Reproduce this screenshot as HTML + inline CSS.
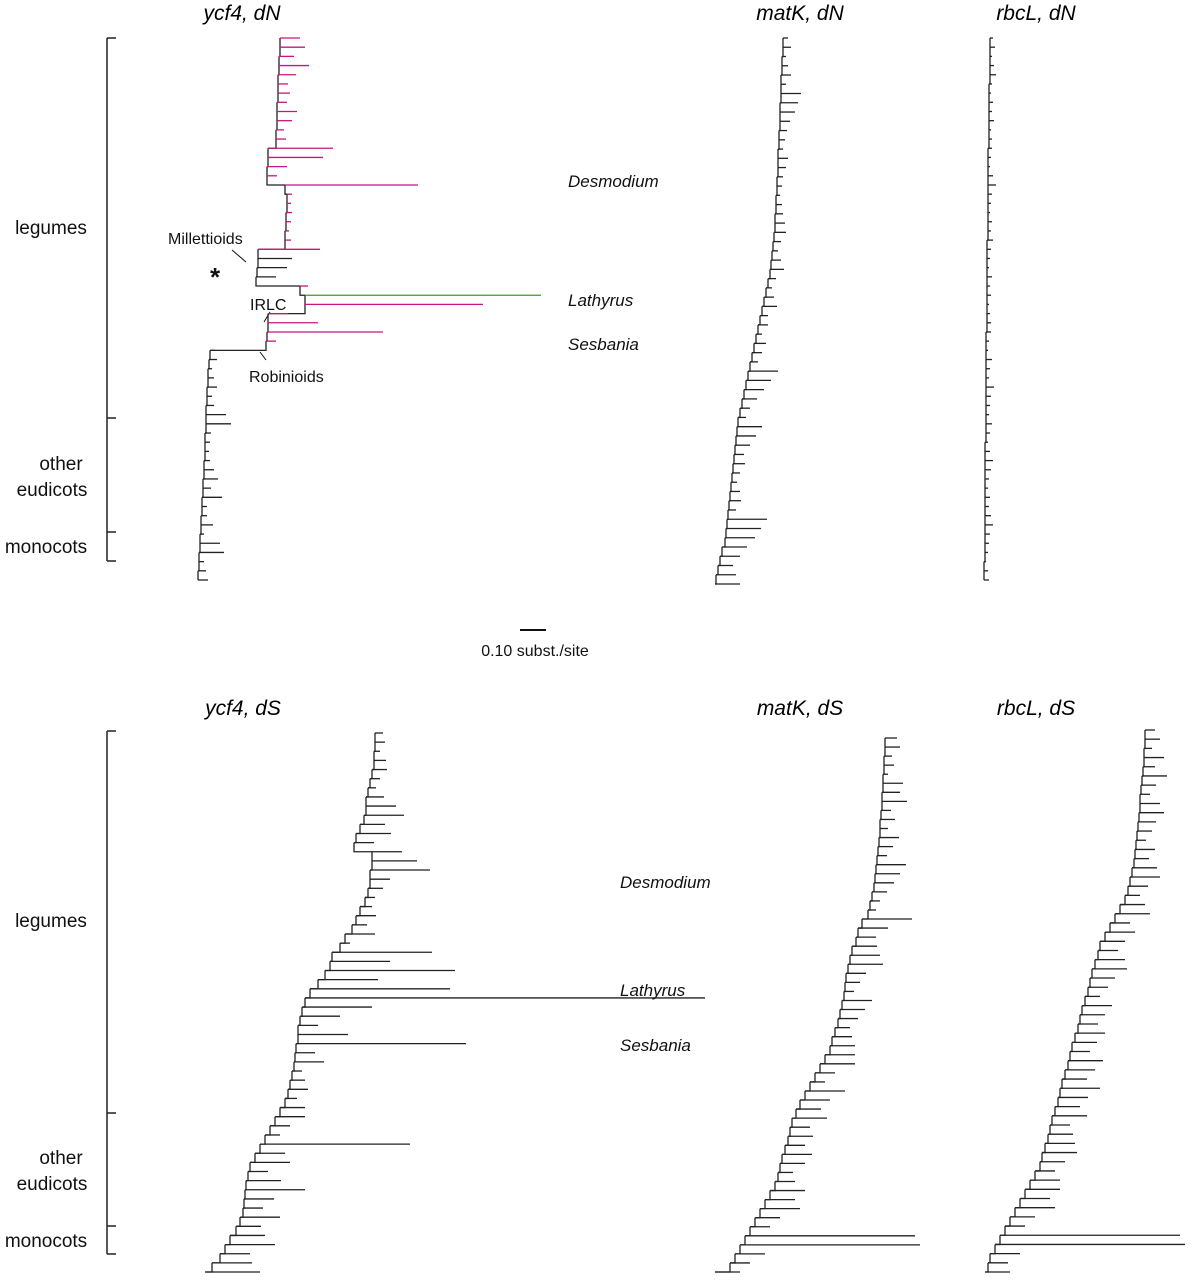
<!DOCTYPE html>
<html><head><meta charset="utf-8">
<style>
html,body{margin:0;padding:0;background:#fff;}
svg{display:block;font-family:"Liberation Sans",Arial,sans-serif;}
.t{font-style:italic;font-size:21px;}
.g{font-size:19px;}
.s{font-style:italic;font-size:17px;}
.a{font-size:16px;}
</style></head>
<body>
<svg id="fig" width="1201" height="1280" viewBox="0 0 1201 1280">
<g>
<text class="t" x="242" y="20" text-anchor="middle">ycf4, dN</text>
<text class="t" x="800" y="20" text-anchor="middle">matK, dN</text>
<text class="t" x="1036" y="20" text-anchor="middle">rbcL, dN</text>
<text class="t" x="243" y="715" text-anchor="middle">ycf4, dS</text>
<text class="t" x="800" y="715" text-anchor="middle">matK, dS</text>
<text class="t" x="1036" y="715" text-anchor="middle">rbcL, dS</text>
</g>
<g stroke="#222" stroke-width="1.5" fill="none">
<path d="M107 38V561M107 38H116M107 418H116M107 532H116M107 561H116"/>
<path d="M107 731V1254M107 731H116M107 1113H116M107 1226H116M107 1254H116"/>
</g>
<g class="g" fill="#111" text-anchor="middle">
<text x="51" y="234">legumes</text>
<text x="61" y="470">other</text>
<text x="52" y="496">eudicots</text>
<text x="46" y="553">monocots</text>
<text x="51" y="927">legumes</text>
<text x="61" y="1164">other</text>
<text x="52" y="1190">eudicots</text>
<text x="46" y="1247">monocots</text>
</g>
<g class="s" fill="#111">
<text x="568" y="187">Desmodium</text>
<text x="568" y="306">Lathyrus</text>
<text x="568" y="350">Sesbania</text>
<text x="620" y="888">Desmodium</text>
<text x="620" y="996">Lathyrus</text>
<text x="620" y="1051">Sesbania</text>
</g>
<g class="a" fill="#111">
<text x="168" y="244">Millettioids</text>
<text x="250" y="310">IRLC</text>
<text x="249" y="382">Robinioids</text>
<text x="210" y="286" style="font-size:26px;font-weight:bold">*</text>
<path d="M232 250L246 262M270 312L264 322M260 352L266 360" stroke="#111" stroke-width="1"/>
</g>
<g>
<line x1="520" y1="630" x2="546" y2="630" stroke="#111" stroke-width="2"/>
<text x="535" y="656" text-anchor="middle" class="a" fill="#111">0.10 subst./site</text>
</g>
<g id="trees"></g>
</svg>
<script>
// ycf4 dN
const ycf4dnSpine=[280,280,279,279,278,278,278,277,277,277,276,276,268,268,267,267,285,287,287,286,286,285,285,258,258,257,256,300,305,305,268,268,267,266,210,209,208,208,207,207,206,206,206,205,205,205,204,204,203,203,202,202,201,201,200,200,199,199,198,198];
const ycf4dnLen=[20,25,15,30,18,10,12,10,20,15,8,10,65,55,20,10,133,5,4,6,5,4,6,62,34,30,20,8,236,178,20,50,116,10,5,8,4,6,10,5,8,20,25,6,5,4,6,10,15,8,20,5,6,12,4,20,25,5,8,10];
const ycf4dnCol="ppppppppppppppppppppppppkkkpgpppppkkkkkkkkkkkkkkkkkkkkkkkkkk";
// ycf4 dS
const ycf4dsSpine=[375,375,374,374,372,370,368,366,366,364,360,356,354,372,372,370,370,368,365,360,356,352,345,340,332,330,325,318,310,305,302,300,298,298,296,295,294,292,290,288,285,280,275,270,265,260,255,250,248,246,245,244,243,240,236,230,225,220,212,205];
const ycf4dsLen=[8,10,6,12,15,10,8,18,30,40,25,35,20,30,45,60,20,15,10,12,20,15,30,10,100,60,130,60,140,400,70,40,20,50,170,20,30,10,15,20,12,25,30,20,15,150,30,40,20,35,60,30,20,40,25,35,50,30,40,55];
// matK dN
const matkdnSpine=[783,783,782,782,781,781,781,780,780,780,779,779,778,778,778,777,777,776,776,775,775,774,773,772,771,770,768,766,764,762,760,758,756,754,752,750,748,746,744,742,740,738,737,736,735,734,733,732,731,730,729,728,727,726,725,722,720,718,716,715];
const matkdnLen=[5,8,4,6,10,5,20,18,15,10,8,6,5,10,8,6,5,4,6,8,10,12,8,6,10,14,8,6,10,15,8,10,6,12,10,8,30,25,20,15,10,8,25,20,15,10,12,8,6,10,12,8,40,35,30,25,20,15,20,25];
// matK dS
const matkdsSpine=[885,885,884,884,883,883,882,882,881,880,880,879,878,877,876,875,874,872,870,868,862,858,856,852,850,848,846,845,844,842,840,838,835,832,830,825,820,815,810,805,800,796,792,790,788,785,782,780,778,775,770,765,760,755,750,745,740,735,730,715];
const matkdsLen=[12,15,8,10,5,20,18,25,10,15,8,20,15,10,30,25,20,15,10,8,50,30,20,25,30,35,20,15,10,30,25,20,15,20,25,30,35,20,15,40,30,25,35,20,25,20,30,25,15,20,35,30,40,25,20,170,180,30,20,25];
// rbcL dN
const rbcldnSpine=[990,990,990,990,990,989,989,989,989,989,989,989,988,988,988,988,988,988,988,988,988,988,987,987,987,987,987,987,987,987,987,987,986,986,986,986,986,986,986,986,986,986,986,986,985,985,985,985,985,985,985,985,985,985,985,985,985,984,984,984];
const rbcldnLen=[3,5,2,4,6,3,2,4,3,5,2,3,4,3,2,5,8,4,3,2,4,3,6,4,3,2,5,3,4,2,3,4,5,3,2,6,4,3,8,5,4,3,6,4,3,5,8,6,4,3,5,4,6,8,5,4,3,2,4,5];
// rbcL dS
const rblcdsSpine=[1145,1145,1144,1144,1143,1142,1141,1140,1140,1139,1138,1137,1136,1135,1134,1132,1130,1128,1125,1120,1115,1110,1105,1100,1098,1095,1092,1090,1088,1085,1082,1080,1078,1075,1072,1070,1068,1065,1062,1060,1058,1055,1052,1050,1048,1045,1042,1040,1035,1030,1025,1020,1015,1010,1005,1000,995,990,988,985];
const rbcldsLen=[10,15,8,20,12,25,15,10,20,25,18,15,10,20,15,25,30,20,15,25,35,20,30,25,20,30,35,25,20,15,30,25,20,30,25,20,35,30,25,40,30,25,35,20,25,30,35,25,20,30,35,30,40,25,20,180,190,30,20,25];

const trees=[
 {name:"ycf4-dn",sp:ycf4dnSpine,len:ycf4dnLen,col:ycf4dnCol,y0:38,y1:580},
 {name:"ycf4-ds",sp:ycf4dsSpine,len:ycf4dsLen,col:null,y0:733,y1:1272},
 {name:"matk-dn",sp:matkdnSpine,len:matkdnLen,col:null,y0:38,y1:584},
 {name:"matk-ds",sp:matkdsSpine,len:matkdsLen,col:null,y0:738,y1:1272},
 {name:"rbcl-dn",sp:rbcldnSpine,len:rbcldnLen,col:null,y0:38,y1:580},
 {name:"rbcl-ds",sp:rblcdsSpine,len:rbcldsLen,col:null,y0:730,y1:1272}
];
const colors={p:"#c8157f",g:"#3f9a2b",k:"#222"};
const NS="http://www.w3.org/2000/svg";
const root=document.getElementById("trees");
function yScale(t,i,n){return t.y0+(t.y1-t.y0)*i/(n-1);}
trees.forEach(t=>{
 const g=document.createElementNS(NS,"g");
 
 
 root.appendChild(g);
 const n=Math.min(t.sp.length,t.len.length);
 let d="";
 for(let i=0;i<n-1;i++){
  const y=yScale(t,i,n),y2=yScale(t,i+1,n);
  d+=`M${t.sp[i]} ${y}V${y2}H${t.sp[i+1]}`;
 }
 const sp=document.createElementNS(NS,"path");
 sp.setAttribute("d",d);sp.setAttribute("fill","none");sp.setAttribute("stroke","#222");sp.setAttribute("stroke-width","1.3");
 
 
 g.appendChild(sp);
 for(let i=0;i<n;i++){
  const y=yScale(t,i,n);
  const l=document.createElementNS(NS,"line");
  l.setAttribute("x1",t.sp[i]);l.setAttribute("x2",t.sp[i]+t.len[i]);
  l.setAttribute("y1",y);l.setAttribute("y2",y);
  l.setAttribute("stroke",t.col?colors[t.col[i]]||"#222":"#222");
  l.setAttribute("stroke-width","1.3");
  
  
  g.appendChild(l);
 }
});
</script>
</body></html>
